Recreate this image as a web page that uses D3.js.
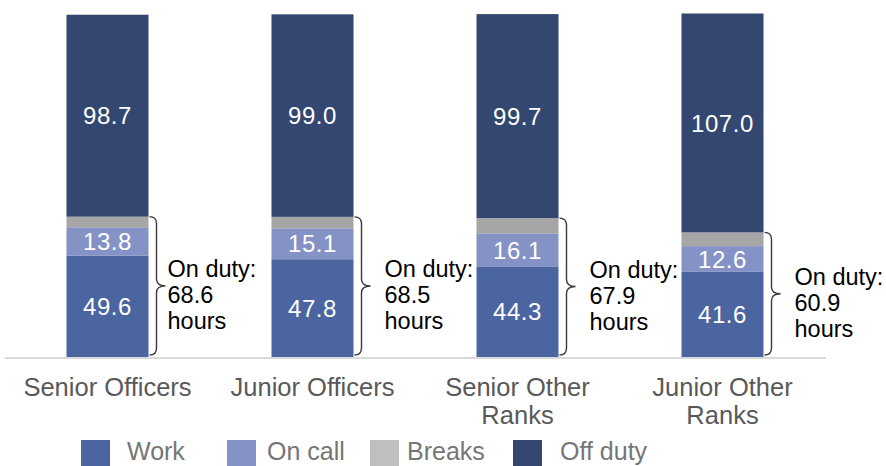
<!DOCTYPE html>
<html>
<head>
<meta charset="utf-8">
<script src="https://cdn.jsdelivr.net/npm/d3@7"></script>
<style>
  html, body { margin: 0; padding: 0; background: #fff; }
  svg { display: block; font-family: "Liberation Sans", Arial, sans-serif; }
</style>
</head>
<body>
<svg id="chart" width="886" height="466"></svg>
<script>
// Average hours per week by rank group
const categories = [["Senior Officers"], ["Junior Officers"], ["Senior Other", "Ranks"], ["Junior Other", "Ranks"]];
const work    = [49.6, 47.8, 44.3, 41.6];
const onCall  = [13.8, 15.1, 16.1, 12.6];
const breaks  = [5.2, 5.6, 7.5, 6.7];
const offDuty = [98.7, 99.0, 99.7, 107.0];
const onDuty  = [68.6, 68.5, 67.9, 60.9];
const seriesNames = ["Work", "On call", "Breaks", "Off duty"];
const seriesColors = ["#4a65a0", "#8592c6", "#a6a6a6", "#334770"];
const legendColors = ["#4a65a0", "#8592c6", "#bfbfbf", "#334770"];
const labelled = [true, true, false, true];

const svg = d3.select("#chart");

const x = d3.scaleBand()
  .domain(d3.range(categories.length))
  .range([5, 825])
  .paddingInner(0.6)
  .paddingOuter(0.3);

const y = d3.scaleLinear().domain([0, 168]).range([357, 13.3]);

const rows = categories.map((c, i) => ({
  i, work: work[i], onCall: onCall[i], breaks: breaks[i], offDuty: offDuty[i]
}));
const keys = ["work", "onCall", "breaks", "offDuty"];
const stacked = d3.stack().keys(keys)(rows);

// baseline
svg.append("line")
  .attr("x1", 5).attr("x2", 826)
  .attr("y1", y(0) + 1).attr("y2", y(0) + 1)
  .attr("stroke", "#d9d9d9").attr("stroke-width", 2);

// stacked segments
const layers = svg.selectAll("g.layer").data(stacked).join("g")
  .attr("class", "layer")
  .attr("fill", (d, k) => seriesColors[k]);

layers.selectAll("rect").data(d => d).join("rect")
  .attr("x", d => x(d.data.i))
  .attr("width", x.bandwidth())
  .attr("y", d => y(d[1]))
  .attr("height", d => y(d[0]) - y(d[1]));

// value labels
stacked.forEach((layer, k) => {
  if (!labelled[k]) return;
  svg.append("g").selectAll("text").data(layer).join("text")
    .attr("x", d => x(d.data.i) + x.bandwidth() / 2)
    .attr("y", d => (y(d[0]) + y(d[1])) / 2)
    .attr("dy", "0.36em")
    .attr("text-anchor", "middle")
    .attr("fill", "#ffffff")
    .attr("font-size", 24)
    .attr("letter-spacing", 0.6)
    .text(d => d.data[keys[k]].toFixed(1));
});

// on-duty braces and notes
onDuty.forEach((v, i) => {
  const x1 = x(i) + x.bandwidth() + 1;
  const yt = y(v), yb = y(0) - 2, ym = (yt + yb) / 2;
  const xv = x1 + 7, xt = x1 + 16, r = 7;
  const p = d3.path();
  p.moveTo(x1, yt);
  p.quadraticCurveTo(xv, yt, xv, yt + r);
  p.lineTo(xv, ym - r);
  p.quadraticCurveTo(xv, ym, xt, ym);
  p.quadraticCurveTo(xv, ym, xv, ym + r);
  p.lineTo(xv, yb - r);
  p.quadraticCurveTo(xv, yb, x1, yb);
  svg.append("path").attr("d", p.toString())
    .attr("fill", "none").attr("stroke", "#3a3a3a").attr("stroke-width", 1.4);

  const tx = x1 + (i === 0 ? 18 : 30);
  const t = svg.append("text")
    .attr("x", tx)
    .attr("y", ym + 17 - 26)
    .attr("font-size", 23.5)
    .attr("fill", "#000");
  ["On duty:", v.toFixed(1), "hours"].forEach((s, j) => {
    t.append("tspan").attr("x", tx).attr("dy", j === 0 ? 0 : 26).text(s);
  });
});

// category labels
categories.forEach((lines, i) => {
  const t = svg.append("text")
    .attr("x", x(i) + x.bandwidth() / 2)
    .attr("y", 396)
    .attr("text-anchor", "middle")
    .attr("font-size", 25.5)
    .attr("fill", "#595959");
  lines.forEach((s, j) => {
    t.append("tspan").attr("x", x(i) + x.bandwidth() / 2).attr("dy", j === 0 ? 0 : 28).text(s);
  });
});

// legend
const legendSquareX = [81, 227, 370, 513];
const legendTextX = [127, 267, 407, 560];
const legend = svg.append("g");
seriesNames.forEach((name, k) => {
  legend.append("rect")
    .attr("x", legendSquareX[k]).attr("y", 440)
    .attr("width", 29).attr("height", 26)
    .attr("fill", legendColors[k]);
  legend.append("text")
    .attr("x", legendTextX[k])
    .attr("y", 460)
    .attr("font-size", 25)
    .attr("fill", "#767676")
    .text(name);
});
</script>
</body>
</html>
